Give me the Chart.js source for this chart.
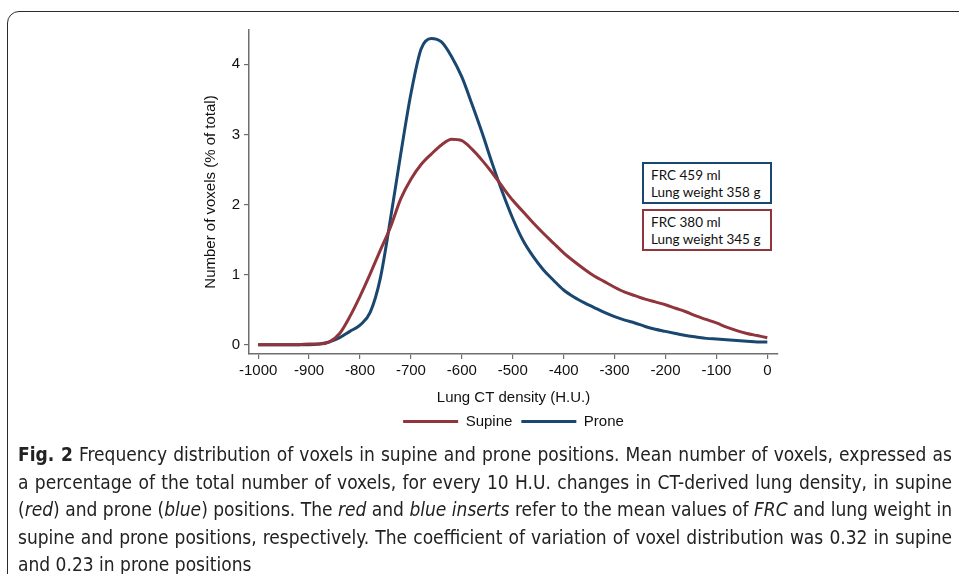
<!DOCTYPE html>
<html>
<head>
<meta charset="utf-8">
<script src="https://cdn.jsdelivr.net/npm/chart.js@4.4.1/dist/chart.umd.min.js"></script>
<style>
  html, body { margin: 0; padding: 0; background: #fff; }
  body { width: 959px; height: 574px; position: relative; overflow: hidden; }
  #frame {
    position: absolute; left: 7px; top: 11px; width: 1000px; height: 700px;
    border: 1.5px solid #2b2b2b; border-radius: 12px; box-sizing: border-box;
  }
  #chartWrap { position: absolute; left: 0; top: 0; width: 959px; height: 444px; }
  .insert {
    position: absolute; left: 642px; width: 130px; height: 42px; box-sizing: border-box;
    font-family: Lato, "Open Sans", sans-serif; font-size: 13.5px; line-height: 17px;
    color: #111; padding: 3px 0 0 7px; background: #fff;
  }
  #insProne { top: 162px; border: 2px solid #1a476f; }
  #insSupine { top: 209px; border: 2px solid #90353b; }
  #caption {
    position: absolute; left: 18px; top: 441px; width: 934px;
    font-family: "Liberation Sans Narrow", "DejaVu Sans Condensed", "Roboto Condensed", sans-serif;
    font-size: 19px; line-height: 27.5px; color: #222;
  }
  #caption div { white-space: nowrap; text-align: justify; text-align-last: justify; }
  #caption div.last { text-align: left; text-align-last: left; }
</style>
</head>
<body>
<div id="frame"></div>
<div id="chartWrap"><canvas id="voxChart"></canvas></div>
<div class="insert" id="insProne">FRC 459 ml<br>Lung weight 358 g</div>
<div class="insert" id="insSupine">FRC 380 ml<br>Lung weight 345 g</div>
<div id="caption">
  <div><b>Fig. 2</b> Frequency distribution of voxels in supine and prone positions. Mean number of voxels, expressed as</div>
  <div>a percentage of the total number of voxels, for every 10 H.U. changes in CT-derived lung density, in supine</div>
  <div>(<i>red</i>) and prone (<i>blue</i>) positions. The <i>red</i> and <i>blue inserts</i> refer to the mean values of <i>FRC</i> and lung weight in</div>
  <div>supine and prone positions, respectively. The coefficient of variation of voxel distribution was 0.32 in supine</div>
  <div class="last">and 0.23 in prone positions</div>
</div>
<script>
// lung density (H.U.), one reading every 20 H.U.
const densityHU = [
  -1000, -980, -960, -940, -920, -900, -880, -860, -840, -820,
  -800, -780, -760, -740, -720, -700, -680, -660, -640, -620,
  -600, -580, -560, -540, -520, -500, -480, -460, -440, -420,
  -400, -380, -360, -340, -320, -300, -280, -260, -240, -220,
  -200, -180, -160, -140, -120, -100, -80, -60, -40, -20, 0
];

// % of total voxels
const supine = [
  0, 0, 0, 0, 0, 0.01, 0.01, 0.04, 0.16, 0.40,
  0.69, 1.01, 1.35, 1.68, 2.08, 2.36, 2.57, 2.72, 2.85, 2.93,
  2.91, 2.79, 2.63, 2.45, 2.25, 2.06, 1.90, 1.74, 1.59, 1.45,
  1.31, 1.19, 1.08, 0.98, 0.90, 0.82, 0.75, 0.70, 0.65, 0.61,
  0.57, 0.52, 0.47, 0.41, 0.36, 0.31, 0.25, 0.20, 0.16, 0.13, 0.10
];

const prone = [
  0, 0, 0, 0, 0, 0, 0.01, 0.04, 0.10, 0.19,
  0.28, 0.46, 0.95, 1.80, 2.72, 3.58, 4.22, 4.37, 4.32, 4.11,
  3.82, 3.43, 3.02, 2.58, 2.17, 1.80, 1.49, 1.26, 1.07, 0.92,
  0.78, 0.68, 0.60, 0.53, 0.46, 0.40, 0.35, 0.31, 0.26, 0.22,
  0.19, 0.16, 0.13, 0.11, 0.09, 0.08, 0.07, 0.06, 0.05, 0.04, 0.04
];

const seriesNames = ['Supine', 'Prone'];
const xTicks = [-1000, -900, -800, -700, -600, -500, -400, -300, -200, -100, 0];
const yTicks = [0, 1, 2, 3, 4];

const RED = '#90353b';
const NAVY = '#1a476f';
const AXIS = '#6e6e6e';
const FONT = '"Liberation Sans", Arial, sans-serif';

function toPoints(values) {
  return values.map((v, i) => ({ x: densityHU[i], y: v }));
}

function lineSet(label, values, color) {
  return {
    label: label,
    data: toPoints(values),
    borderColor: color,
    backgroundColor: color,
    borderWidth: 3,
    pointRadius: 0,
    cubicInterpolationMode: 'monotone',
    fill: false
  };
}

const ctx = document.getElementById('voxChart').getContext('2d');
const voxChart = new Chart(ctx, {
  type: 'line',
  data: {
    datasets: [
      lineSet(seriesNames[0], supine, RED),
      lineSet(seriesNames[1], prone, NAVY)
    ]
  },
  options: {
    responsive: true,
    maintainAspectRatio: false,
    animation: false,
    layout: { padding: { left: 198, right: 181, top: 30, bottom: 5 } },
    plugins: {
      tooltip: { enabled: false },
      legend: {
        position: 'bottom',
        fullSize: false,
        labels: {
          usePointStyle: true,
          pointStyle: 'line',
          pointStyleWidth: 55,
          color: '#111',
          font: { family: FONT, size: 15 },
          padding: 9
        }
      }
    },
    scales: {
      x: {
        type: 'linear',
        min: -1018,
        max: 21,
        afterBuildTicks: axis => { axis.ticks = xTicks.map(v => ({ value: v })); },
        border: { display: true, color: AXIS, width: 1.5 },
        grid: { display: true, drawOnChartArea: false, drawTicks: true, tickLength: 5, color: AXIS, lineWidth: 1.2 },
        ticks: { color: '#111', font: { family: FONT, size: 15 }, padding: 3, maxRotation: 0, callback: v => String(v) },
        title: {
          display: true, text: 'Lung CT density (H.U.)', color: '#111',
          font: { family: FONT, size: 15 }, padding: { top: 6, bottom: -2 }
        }
      },
      y: {
        type: 'linear',
        min: -0.133,
        max: 4.49,
        afterBuildTicks: axis => { axis.ticks = yTicks.map(v => ({ value: v })); },
        afterFit: scale => { scale.width = 51; },
        border: { display: true, color: AXIS, width: 1.5 },
        grid: { display: true, drawOnChartArea: false, drawTicks: true, tickLength: 5, color: AXIS, lineWidth: 1.2 },
        ticks: { color: '#111', font: { family: FONT, size: 15 }, padding: 4, callback: v => String(v) },
        title: {
          display: true, text: 'Number of voxels (% of total)', color: '#111',
          font: { family: FONT, size: 15 }, padding: { top: 4, bottom: 4 }
        }
      }
    }
  }
});
</script>
</body>
</html>
